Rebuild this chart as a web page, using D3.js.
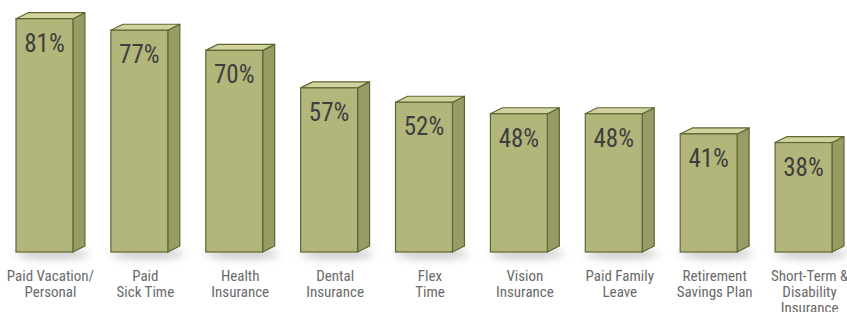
<!DOCTYPE html>
<html>
<head>
<meta charset="utf-8">
<script src="https://d3js.org/d3.v7.min.js"></script>
<style>
  body { margin: 0; background: #fff; }
  svg { display: block; }
  .val { font-family: "Liberation Sans Narrow", "Roboto Condensed", "DejaVu Sans Condensed", sans-serif; }
  .cat { font-family: "Liberation Sans Narrow", "Roboto Condensed", "DejaVu Sans Condensed", sans-serif; }
</style>
</head>
<body>
<div id="chart"></div>
<script>
// benefit categories (each label split into lines)
const categories = [
  ["Paid Vacation/", "Personal"],
  ["Paid", "Sick Time"],
  ["Health", "Insurance"],
  ["Dental", "Insurance"],
  ["Flex", "Time"],
  ["Vision", "Insurance"],
  ["Paid Family", "Leave"],
  ["Retirement", "Savings Plan"],
  ["Short-Term &", "Disability", "Insurance"]
];
const values = [81, 77, 70, 57, 52, 48, 48, 41, 38];

const width = 847, height = 312;
const dx = 12, dy = 6; // 3d depth

const svg = d3.select("#chart").append("svg")
  .attr("width", width)
  .attr("height", height);

const defs = svg.append("defs");
defs.append("filter").attr("id", "blur")
  .attr("x", "-50%").attr("y", "-200%").attr("width", "200%").attr("height", "500%")
  .append("feGaussianBlur").attr("stdDeviation", 4);

const x = d3.scaleBand()
  .domain(d3.range(values.length))
  .range([16, 832])
  .paddingInner(0.4)
  .paddingOuter(0);

const y = d3.scaleLinear()
  .domain([0, 100])
  .range([252, -36]);

const bw = x.bandwidth();
const base = y(0);

const bars = svg.selectAll("g.bar")
  .data(values)
  .enter().append("g")
  .attr("class", "bar");

// soft shadow on the floor
bars.append("ellipse")
  .attr("cx", (d, i) => x(i) + (bw + dx) / 2 + 2)
  .attr("cy", base + 2)
  .attr("rx", (bw + dx) / 2 + 2)
  .attr("ry", 5)
  .attr("fill", "#9a9a9a")
  .attr("opacity", 0.55)
  .attr("filter", "url(#blur)");

// side face
bars.append("path")
  .attr("d", (d, i) => {
    const x0 = x(i) + bw, t = y(d);
    return `M${x0},${t} L${x0 + dx},${t - dy} L${x0 + dx},${base - dy} L${x0},${base} Z`;
  })
  .attr("fill", "#979b64")
  .attr("stroke", "#5f6634")
  .attr("stroke-width", 1.2)
  .attr("stroke-linejoin", "round");

// top face
bars.append("path")
  .attr("d", (d, i) => {
    const x0 = x(i), t = y(d);
    return `M${x0},${t} L${x0 + dx},${t - dy} L${x0 + bw + dx},${t - dy} L${x0 + bw},${t} Z`;
  })
  .attr("fill", "#d0d39e")
  .attr("stroke", "#5f6634")
  .attr("stroke-width", 1.2)
  .attr("stroke-linejoin", "round");

// front face
bars.append("rect")
  .attr("x", (d, i) => x(i))
  .attr("y", d => y(d))
  .attr("width", bw)
  .attr("height", d => base - y(d))
  .attr("fill", "#b3b67b")
  .attr("stroke", "#5f6634")
  .attr("stroke-width", 1.2);

// value labels
bars.append("text")
  .attr("class", "val")
  .attr("x", (d, i) => x(i) + bw / 2)
  .attr("y", d => y(d) + 33)
  .attr("text-anchor", "middle")
  .attr("font-size", 25)
  .attr("fill", "#3e3e3e")
  .text(d => d + "%");

// category labels
const cats = svg.selectAll("text.cat")
  .data(categories)
  .enter().append("text")
  .attr("class", "cat")
  .attr("text-anchor", "middle")
  .attr("font-size", 15)
  .attr("fill", "#6a6a6a")
  .attr("transform", (d, i) => `translate(${x(i) + (bw + dx) / 2},281)`);

cats.selectAll("tspan")
  .data(d => d)
  .enter().append("tspan")
  .attr("x", 0)
  .attr("dy", (d, j) => j === 0 ? 0 : 16)
  .text(d => d);
</script>
</body>
</html>
